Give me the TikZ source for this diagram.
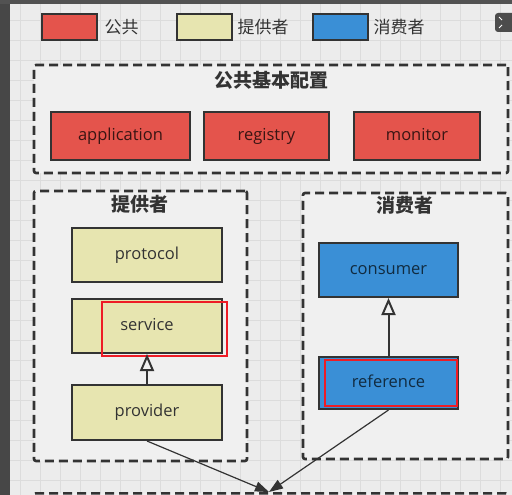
\documentclass[tikz,border=0pt]{standalone}
\usepackage{fontspec}
\setmainfont{Open Sans}
\newfontfamily\cjk{Noto Sans CJK SC}
\usetikzlibrary{arrows.meta, positioning}
\definecolor{pubred}{HTML}{E4544C}
\definecolor{provyel}{HTML}{E7E5B0}
\definecolor{consblu}{HTML}{3A8FD6}
\definecolor{edgegray}{HTML}{333333}
\definecolor{paper}{HTML}{ECECEC}
\definecolor{gridln}{HTML}{DCDCDC}
\definecolor{groupbg}{HTML}{F0F0F0}
\definecolor{hilite}{HTML}{EE1C25}

\begin{document}
\begin{tikzpicture}[
  x=1pt, y=-1pt,
  font=\fontsize{16.5}{19}\selectfont,
  box/.style={rectangle, draw=edgegray, line width=2pt, text=edgegray,
              minimum height=52pt, align=center, text height=12pt, text depth=3.5pt},
  pub/.style={box, fill=pubred, text=black!75!pubred, minimum height=48pt},
  prov/.style={box, fill=provyel, minimum width=150pt, minimum height=54pt},
  cons/.style={box, fill=consblu, text=black!70!consblu, minimum width=139pt},
  key/.style={rectangle, draw=edgegray, line width=2pt,
              minimum width=55pt, minimum height=26pt},
  keytxt/.style={anchor=west, font=\cjk\fontsize{17}{20}\selectfont, text=edgegray},
  group/.style={rectangle, draw=edgegray, dash pattern=on 9pt off 5pt,
                line width=2.6pt, fill=groupbg, rounded corners=2pt},
  title/.style={font=\cjk\bfseries\fontsize{19}{22}\selectfont, text=edgegray},
  hlbox/.style={rectangle, draw=hilite, line width=2.4pt},
  inh/.style={-{Triangle[open, length=17pt, width=14pt]}, line width=2pt, draw=edgegray},
  flow/.style={-{Triangle[length=14pt, width=10pt]}, line width=1.2pt, draw=edgegray}
]
%% screen background: grid paper with dark frame
\useasboundingbox (0,0) rectangle (512,495);
\fill[paper] (0,0) rectangle (512,495);
\draw[gridln, step=20pt] (10,0) grid (512,495);
\fill[black!72] (0,0) rectangle (10,495);
\fill[black!68] (0,0) rectangle (512,4);
\fill[black!70, rounded corners=3pt] (495,13) rectangle (516,32);
\draw[white, line width=1pt] (499,17) -- (502,20) (499,28) -- (502,25);

%% legend
\node[key, fill=pubred]  (k_pub)  at (69.5,27) {};
\node[keytxt] (k_pub_t)  at (101,27) {公共};
\node[key, fill=provyel] (k_prov) at (204,27) {};
\node[keytxt] (k_prov_t) at (234,27) {提供者};
\node[key, fill=consblu] (k_cons) at (340.5,27) {};
\node[keytxt] (k_cons_t) at (370,27) {消费者};

%% group frames
\node[group, minimum width=474pt, minimum height=108pt] (g_pub)  at (271,119) {};
\node[group, minimum width=213pt, minimum height=270pt] (g_prov) at (140.5,326) {};
\node[group, minimum width=205pt, minimum height=266pt] (g_cons) at (405.5,326) {};
\node[group, minimum width=474pt, minimum height=60pt, anchor=north] (g_base) at (271,492) {};
\node[title] (t_pub)  at (271,80)  {公共基本配置};
\node[title] (t_prov) at (140,204) {提供者};
\node[title] (t_cons) at (405,205) {消费者};

%% common config
\node[pub, minimum width=139pt] (application) at (120.5,136) {application};
\node[pub, minimum width=125pt] (registry)    at (266.5,136) {registry};
\node[pub, minimum width=126pt] (monitor)     at (417,136)   {monitor};

%% provider side
\node[prov] (protocol) at (147,255)   {protocol};
\node[prov] (service)  at (147,326)   {service};
\node[prov, minimum height=55pt] (provider) at (147,412.5) {provider};
\node[hlbox, minimum width=125pt, minimum height=54pt] (m_service) at (164.5,329) {};

%% consumer side
\node[cons, minimum height=54pt] (consumer)  at (388.5,270) {consumer};
\node[cons]                      (reference) at (388.5,383) {reference};
\node[hlbox, minimum width=132pt, minimum height=46pt] (m_reference) at (391,383) {};

%% arrows
\draw[inh] (provider.north)  -- (service.south);
\draw[inh] (reference.north) -- (consumer.south);
\coordinate (sink) at (269,492);
\draw[flow] (provider.south)  -- (sink);
\draw[flow] (reference.south) -- (sink);
\end{tikzpicture}
\end{document}
